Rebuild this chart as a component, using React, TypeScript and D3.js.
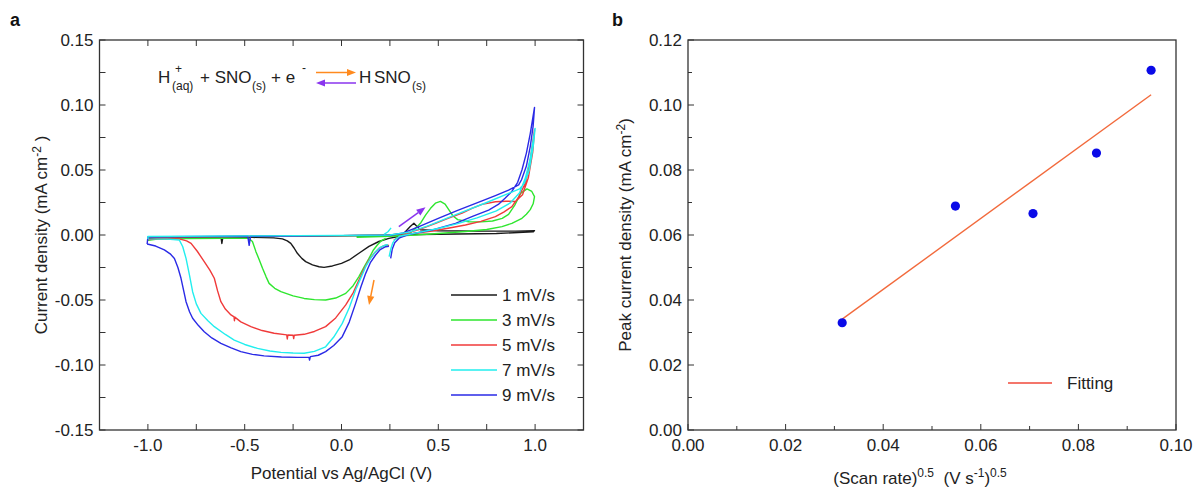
import React from 'react';
import * as d3 from 'd3';

type P = [number, number];

// ---------- Panel a: cyclic voltammograms [potential (V), current density (mA cm-2)] ----------
const scanRateLabels = ['1 mV/s', '3 mV/s', '5 mV/s', '7 mV/s', '9 mV/s'];
const cvColors = ['#1a1a1a', '#2ee62e', '#f03a3a', '#22eeee', '#2a2ae6'];

const cv1mV: P[] = [
  [-1.0, -0.0025], [-0.8, -0.002], [-0.622, -0.0018], [-0.618, -0.0065], [-0.613, -0.0018], [-0.46, -0.0018],
  [-0.35, -0.0022], [-0.305, -0.003], [-0.28, -0.0045], [-0.262, -0.0064], [-0.245, -0.01], [-0.228, -0.0141],
  [-0.205, -0.018], [-0.185, -0.0205], [-0.15, -0.023], [-0.116, -0.0244], [-0.09, -0.0249], [-0.047, -0.0238],
  [0.0, -0.0218], [0.04, -0.0192], [0.09, -0.014], [0.142, -0.0088], [0.193, -0.005], [0.245, -0.0026],
  [0.3, -0.001], [0.33, 0.0025], [0.355, 0.0065], [0.374, 0.009], [0.39, 0.0065], [0.408, 0.004], [0.5, 0.0033],
  [0.7, 0.003], [0.9, 0.003], [0.997, 0.0034],
  [0.99, 0.0024], [0.8, 0.0012], [0.6, 0.0008], [0.4, 0.0004], [0.3, 0.0],
  [0.0, -0.0005], [-0.5, -0.0012], [-1.0, -0.0018], [-1.0, -0.0025],
];

const cv3mV: P[] = [
  [-1.0, -0.004], [-0.95, -0.0032], [-0.8, -0.0028], [-0.6, -0.0025], [-0.48, -0.0026], [-0.46, -0.005],
  [-0.442, -0.0128], [-0.425, -0.019], [-0.408, -0.0256], [-0.39, -0.032], [-0.374, -0.0372], [-0.345, -0.041],
  [-0.313, -0.0436], [-0.25, -0.0468], [-0.193, -0.0488], [-0.14, -0.0497], [-0.082, -0.05], [-0.03, -0.0485],
  [0.022, -0.0449], [0.06, -0.039], [0.09, -0.032], [0.115, -0.025], [0.142, -0.018], [0.165, -0.0115],
  [0.185, -0.0077], [0.205, -0.0045], [0.228, -0.0026],
  [NaN, NaN],
  [-1.0, -0.0015], [-0.5, -0.0011], [0.0, -0.0006], [0.3, -0.0003],
  [0.35, 0.001], [0.382, 0.0051], [0.41, 0.0095], [0.435, 0.0155], [0.46, 0.0205], [0.485, 0.0245],
  [0.511, 0.0258], [0.535, 0.0238], [0.554, 0.0195], [0.575, 0.0148], [0.6, 0.0118], [0.657, 0.0102],
  [0.72, 0.0101], [0.78, 0.0108], [0.83, 0.0128], [0.863, 0.0158], [0.895, 0.023], [0.925, 0.032],
  [0.958, 0.0355], [0.983, 0.0335], [0.997, 0.0295],
  [0.99, 0.024], [0.975, 0.0195], [0.955, 0.016], [0.932, 0.0128], [0.88, 0.009], [0.829, 0.0064],
  [0.75, 0.0042], [0.64, 0.0027], [0.5, 0.0012], [0.382, 0.0], [0.25, -0.001], [0.078, -0.0017],
];

const cv5mV: P[] = [
  [-1.0, -0.0035], [-0.95, -0.003], [-0.9, -0.003], [-0.838, -0.003], [-0.8, -0.0045], [-0.777, -0.0064],
  [-0.745, -0.0125], [-0.709, -0.0205], [-0.68, -0.027], [-0.657, -0.0333], [-0.64, -0.043], [-0.623, -0.0513],
  [-0.6, -0.057], [-0.571, -0.0615], [-0.555, -0.063], [-0.553, -0.066], [-0.551, -0.0632], [-0.52, -0.0668],
  [-0.468, -0.0705], [-0.41, -0.0735], [-0.348, -0.0756], [-0.283, -0.0768], [-0.28, -0.08], [-0.277, -0.0769],
  [-0.25, -0.0771], [-0.247, -0.0797], [-0.244, -0.0771], [-0.193, -0.0764], [-0.14, -0.0742], [-0.082, -0.0705],
  [-0.03, -0.0638], [0.022, -0.0538], [0.06, -0.0445], [0.09, -0.0346], [0.115, -0.0265], [0.142, -0.0192],
  [0.17, -0.0138], [0.193, -0.0103], [0.215, -0.0085], [0.236, -0.0077], [0.245, -0.0082],
  [NaN, NaN],
  [0.27, -0.004], [0.3, -0.0012], [0.35, 0.0008], [0.468, 0.0031], [0.55, 0.0052], [0.64, 0.0077],
  [0.72, 0.0105], [0.795, 0.0141], [0.84, 0.0178], [0.88, 0.0218], [0.915, 0.0292], [0.949, 0.0397],
  [0.975, 0.0577], [0.997, 0.0808],
  [0.988, 0.064], [0.965, 0.044], [0.935, 0.031], [0.898, 0.0258], [0.85, 0.026], [0.795, 0.0256],
  [0.726, 0.0236], [0.674, 0.0205], [0.623, 0.0168], [0.55, 0.0128], [0.486, 0.009], [0.4, 0.0042],
  [0.33, 0.0012], [0.25, 0.0],
  [0.0, -0.0005], [-0.5, -0.0011], [-1.0, -0.0017], [-1.0, -0.0035],
];

const cv7mV: P[] = [
  [-1.0, -0.003], [-0.9, -0.0032], [-0.838, -0.0038], [-0.82, -0.009], [-0.803, -0.018], [-0.785, -0.031],
  [-0.769, -0.0436], [-0.75, -0.053], [-0.726, -0.0603], [-0.69, -0.066], [-0.657, -0.0705], [-0.6, -0.0765],
  [-0.554, -0.0808], [-0.5, -0.0842], [-0.434, -0.0872], [-0.37, -0.0892], [-0.313, -0.0903], [-0.25, -0.0908],
  [-0.193, -0.091], [-0.14, -0.0895], [-0.082, -0.086], [-0.04, -0.0785], [0.004, -0.068], [0.04, -0.056],
  [0.073, -0.0423], [0.1, -0.033], [0.125, -0.0244], [0.15, -0.018], [0.176, -0.0128], [0.2, -0.0095],
  [0.228, -0.0077], [0.24, -0.0075],
  [NaN, NaN],
  [0.246, -0.0167], [0.255, -0.0105], [0.265, -0.006], [0.276, -0.0036], [0.3, -0.001], [0.4, 0.002],
  [0.5, 0.005], [0.6, 0.0088], [0.7, 0.0132], [0.8, 0.0185], [0.87, 0.0245], [0.92, 0.0325], [0.95, 0.044],
  [0.975, 0.059], [1.0, 0.082],
  [0.99, 0.068], [0.97, 0.05], [0.945, 0.04], [0.92, 0.0355], [0.86, 0.0318], [0.75, 0.025], [0.6, 0.0162],
  [0.45, 0.0072], [0.35, 0.0022], [0.25, 0.0],
  [0.0, -0.0003], [-0.5, -0.0007], [-1.0, -0.0012], [-1.0, -0.003],
];
const cv7mVDash: P[] = [[0.22, 0.0005], [0.24, 0.0025], [0.256, 0.0055]];

const cv9mV: P[] = [
  [-1.004, -0.0069], [-0.96, -0.0085], [-0.915, -0.0115], [-0.885, -0.0145], [-0.863, -0.018], [-0.845, -0.025],
  [-0.829, -0.0333], [-0.815, -0.043], [-0.803, -0.0513], [-0.785, -0.059], [-0.769, -0.064], [-0.74, -0.0695],
  [-0.709, -0.0744], [-0.67, -0.0792], [-0.623, -0.0833], [-0.57, -0.0868], [-0.52, -0.0897], [-0.46, -0.0918],
  [-0.4, -0.093], [-0.31, -0.0938], [-0.228, -0.0941], [-0.168, -0.0941], [-0.165, -0.0962], [-0.161, -0.0936],
  [-0.12, -0.0925], [-0.082, -0.0897], [-0.04, -0.085], [0.004, -0.0782], [0.04, -0.067], [0.073, -0.0526],
  [0.1, -0.04], [0.125, -0.0295], [0.15, -0.021], [0.176, -0.0154], [0.2, -0.0112], [0.228, -0.009],
  [0.245, -0.0087],
  [NaN, NaN],
  [0.254, -0.018], [0.262, -0.011], [0.275, -0.006], [0.3, -0.0022], [0.35, 0.0005], [0.47, 0.004],
  [0.589, 0.009], [0.68, 0.0145], [0.76, 0.0192], [0.81, 0.0235], [0.846, 0.0285], [0.88, 0.0335],
  [0.91, 0.0405], [0.932, 0.05], [0.955, 0.063], [0.975, 0.078], [0.997, 0.0982],
  [0.99, 0.084], [0.975, 0.068], [0.955, 0.053], [0.93, 0.0425], [0.915, 0.0385], [0.863, 0.0346],
  [0.795, 0.0303], [0.726, 0.0262], [0.6, 0.019], [0.5, 0.0128], [0.4, 0.0065], [0.313, 0.0013],
  [0.25, -0.0002],
  [0.0, -0.0005], [-0.47, -0.001], [-0.477, -0.008], [-0.484, -0.001], [-0.9, -0.0014], [-1.0, -0.0016],
  [-1.004, -0.0069],
];

const cvSeries: P[][] = [cv1mV, cv3mV, cv5mV, cv7mV, cv9mV];
const drawOrder = [0, 1, 2, 4, 3];

// annotation arrows in data coordinates [from, to]
const anodicArrow: P[] = [[0.296, 0.0064], [0.434, 0.0213]];
const cathodicArrow: P[] = [[0.168, -0.0346], [0.142, -0.0538]];

const xTicksA = [-1.0, -0.5, 0.0, 0.5, 1.0];
const yTicksA = [-0.15, -0.1, -0.05, 0.0, 0.05, 0.1, 0.15];

// ---------- Panel b: peak current vs sqrt(scan rate) ----------
const sqrtScanRate = [0.0316, 0.0548, 0.0707, 0.0837, 0.0949];
const peakCurrent = [0.033, 0.0689, 0.0666, 0.0852, 0.1107];
const xTicksB = [0.0, 0.02, 0.04, 0.06, 0.08, 0.1];
const yTicksB = [0.0, 0.02, 0.04, 0.06, 0.08, 0.1, 0.12];

const FONT = "'Liberation Sans', Arial, Helvetica, sans-serif";
const TXT = '#222';
const AX = '#333';
const FS = 17;
const FSS = 12;

const loc = d3.formatLocale({ decimal: '.', thousands: ',', grouping: [3], currency: ['', ''], minus: '-' });
const f1 = loc.format('.1f');
const f2 = loc.format('.2f');

function arrow(p0: [number, number], p1: [number, number], color: string, key: string) {
  const dx = p1[0] - p0[0], dy = p1[1] - p0[1];
  const len = Math.hypot(dx, dy);
  const ux = dx / len, uy = dy / len;
  const hl = 9, hw = 3.6;
  const bx = p1[0] - ux * hl, by = p1[1] - uy * hl;
  const pts = [
    [p1[0], p1[1]],
    [bx - uy * hw, by + ux * hw],
    [bx + uy * hw, by - ux * hw],
  ];
  return (
    <g key={key}>
      <line x1={p0[0]} y1={p0[1]} x2={bx} y2={by} stroke={color} strokeWidth={1.5} />
      <polygon points={pts.map((p) => p.join(',')).join(' ')} fill={color} />
    </g>
  );
}

export default function App() {
  const xA = d3.scaleLinear().domain([-1.25, 1.25]).range([99.5, 583.5]);
  const yA = d3.scaleLinear().domain([-0.15, 0.15]).range([430, 40]);
  const xB = d3.scaleLinear().domain([0, 0.1]).range([688, 1176]);
  const yB = d3.scaleLinear().domain([0, 0.12]).range([430, 40]);

  const lineA = d3
    .line<P>()
    .defined((d) => !isNaN(d[0]))
    .x((d) => xA(d[0]))
    .y((d) => yA(d[1]));

  // least-squares linear fit of the peak currents
  const mx = d3.mean(sqrtScanRate)!;
  const my = d3.mean(peakCurrent)!;
  let sxy = 0, sxx = 0;
  sqrtScanRate.forEach((x, i) => {
    sxy += (x - mx) * (peakCurrent[i] - my);
    sxx += (x - mx) * (x - mx);
  });
  const slope = sxy / sxx;
  const icpt = my - slope * mx;
  const [fx0, fx1] = d3.extent(sqrtScanRate) as [number, number];
  const fitPts: P[] = [[fx0, icpt + slope * fx0], [fx1, icpt + slope * fx1]];
  const lineB = d3.line<P>().x((d) => xB(d[0])).y((d) => yB(d[1]));

  const minorXA = d3.range(-1.25, 1.2501, 0.25);
  const minorYA = d3.range(-0.15, 0.1501, 0.025);
  const minorXB = d3.range(0, 0.1001, 0.01);
  const minorYB = d3.range(0, 0.1201, 0.01);
  const TL = 6;

  const [a0, a1] = xA.range();
  const [ab, at] = yA.range();
  const [b0, b1] = xB.range();
  const [bb, bt] = yB.range();

  const legendY = (i: number) => 295 + i * 25;

  return (
    <svg
      width={1193}
      height={490}
      style={{ position: 'absolute', left: 0, top: 0, background: '#fff' }}
      fontFamily={FONT}
    >
      <rect x={0} y={0} width={1193} height={490} fill="#fff" />

      {/* ===== Panel a ===== */}
      <text x={10} y={26} fontSize={18} fontWeight="bold" fill="#111">a</text>

      {minorXA.map((v, i) => (
        <g key={'xa' + i} stroke={AX} strokeWidth={1}>
          <line x1={xA(v)} x2={xA(v)} y1={ab} y2={ab - TL} />
          <line x1={xA(v)} x2={xA(v)} y1={at} y2={at + TL} />
        </g>
      ))}
      {minorYA.map((v, i) => (
        <g key={'ya' + i} stroke={AX} strokeWidth={1}>
          <line x1={a0} x2={a0 + TL} y1={yA(v)} y2={yA(v)} />
          <line x1={a1} x2={a1 - TL} y1={yA(v)} y2={yA(v)} />
        </g>
      ))}
      {xTicksA.map((v) => (
        <text key={'xta' + v} x={xA(v)} y={451} fontSize={FS} textAnchor="middle" fill={TXT}>{f1(v)}</text>
      ))}
      {yTicksA.map((v) => (
        <text key={'yta' + v} x={a0 - 6} y={yA(v) + 6} fontSize={FS} textAnchor="end" fill={TXT}>{f2(v)}</text>
      ))}

      <g fill="none" strokeWidth={1.4} strokeLinejoin="round">
        {drawOrder.map((i) => (
          <path key={'cv' + i} d={lineA(cvSeries[i]) || ''} stroke={cvColors[i]} />
        ))}
        <path d={lineA(cv7mVDash) || ''} stroke={cvColors[3]} />
      </g>

      {arrow([xA(anodicArrow[0][0]), yA(anodicArrow[0][1])], [xA(anodicArrow[1][0]), yA(anodicArrow[1][1])], '#8a35ee', 'aa')}
      {arrow([xA(cathodicArrow[0][0]), yA(cathodicArrow[0][1])], [xA(cathodicArrow[1][0]), yA(cathodicArrow[1][1])], '#ff8a1e', 'ca')}

      <rect x={a0} y={at} width={a1 - a0} height={ab - at} fill="none" stroke={AX} strokeWidth={1.3} />

      {/* equation */}
      <g fill={TXT}>
        <text x={158} y={83} fontSize={FS}>H</text>
        <text x={175} y={73} fontSize={FSS}>+</text>
        <text x={172} y={90} fontSize={FSS}>(aq)</text>
        <text x={200} y={83} fontSize={FS}>+ SNO</text>
        <text x={252} y={90} fontSize={FSS}>(s)</text>
        <text x={271} y={83} fontSize={FS}>+ e</text>
        <text x={302} y={72} fontSize={FSS}>-</text>
        <text x={359} y={83} fontSize={FS}>H</text>
        <text x={374} y={83} fontSize={FS}>SNO</text>
        <text x={412} y={90} fontSize={FSS}>(s)</text>
      </g>
      {arrow([316, 72.5], [356, 72.5], '#ff8a1e', 'eq1')}
      {arrow([356, 83], [316, 83], '#8a35ee', 'eq2')}

      {scanRateLabels.map((lab, i) => (
        <g key={'lg' + i}>
          <line x1={451} x2={497} y1={legendY(i)} y2={legendY(i)} stroke={cvColors[i]} strokeWidth={1.4} />
          <text x={502} y={legendY(i) + 6} fontSize={FS} fill={TXT}>{lab}</text>
        </g>
      ))}

      <text x={(a0 + a1) / 2} y={479} fontSize={FS} textAnchor="middle" fill={TXT}>Potential vs Ag/AgCl (V)</text>
      <text transform={`translate(47,${(at + ab) / 2}) rotate(-90)`} fontSize={FS} textAnchor="middle" fill={TXT}>
        Current density (mA cm<tspan dy={-6} fontSize={FSS}>-2</tspan><tspan dy={6}> )</tspan>
      </text>

      {/* ===== Panel b ===== */}
      <text x={612} y={26} fontSize={18} fontWeight="bold" fill="#111">b</text>

      {minorXB.map((v, i) => (
        <line key={'xb' + i} x1={xB(v)} x2={xB(v)} y1={bb} y2={bb - (i % 2 === 0 ? TL : 4)} stroke={AX} strokeWidth={1} />
      ))}
      {minorYB.map((v, i) => (
        <line key={'yb' + i} x1={b0} x2={b0 + (i % 2 === 0 ? TL : 4)} y1={yB(v)} y2={yB(v)} stroke={AX} strokeWidth={1} />
      ))}
      {xTicksB.map((v) => (
        <text key={'xtb' + v} x={xB(v)} y={451} fontSize={FS} textAnchor="middle" fill={TXT}>{f2(v)}</text>
      ))}
      {yTicksB.map((v) => (
        <text key={'ytb' + v} x={b0 - 6} y={yB(v) + 6} fontSize={FS} textAnchor="end" fill={TXT}>{f2(v)}</text>
      ))}

      <path d={lineB(fitPts) || ''} stroke="#f26a3c" strokeWidth={1.4} fill="none" />
      {sqrtScanRate.map((x, i) => (
        <circle key={'pt' + i} cx={xB(x)} cy={yB(peakCurrent[i])} r={4.6} fill="#0a0ae8" />
      ))}

      <rect x={b0} y={bt} width={b1 - b0} height={bb - bt} fill="none" stroke={AX} strokeWidth={1.3} />

      <line x1={1008} x2={1052} y1={383} y2={383} stroke="#f0483a" strokeWidth={1.4} />
      <text x={1067} y={389} fontSize={FS} fill={TXT}>Fitting</text>

      <text x={(b0 + b1) / 2 - 12} y={484} fontSize={FS} textAnchor="middle" fill={TXT}>
        (Scan rate)<tspan dy={-7} fontSize={FSS}>0.5</tspan>
        <tspan dy={7}>{'\u00a0\u00a0'}(V s</tspan>
        <tspan dy={-7} fontSize={FSS}>-1</tspan>
        <tspan dy={7}>)</tspan>
        <tspan dy={-7} fontSize={FSS}>0.5</tspan>
      </text>
      <text transform={`translate(631,${(bt + bb) / 2}) rotate(-90)`} fontSize={FS} textAnchor="middle" fill={TXT}>
        Peak current density (mA cm<tspan dy={-6} fontSize={FSS}>-2</tspan><tspan dy={6}>)</tspan>
      </text>
    </svg>
  );
}
